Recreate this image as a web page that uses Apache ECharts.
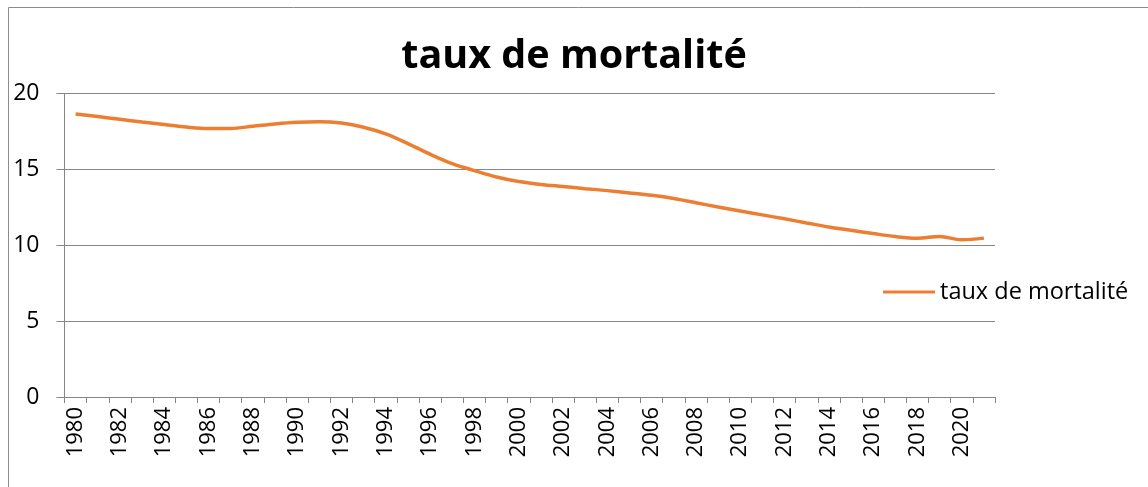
<!DOCTYPE html>
<html>
<head>
<meta charset="utf-8">
<script src="https://cdn.jsdelivr.net/npm/echarts@6/dist/echarts.min.js"></script>
<style>html,body{margin:0;padding:0;background:#fff}#c{width:1148px;height:487px}</style>
</head>
<body>
<div id="c"></div>
<script>
const years = ['1980','1981','1982','1983','1984','1985','1986','1987','1988','1989','1990','1991','1992','1993','1994','1995','1996','1997','1998','1999','2000','2001','2002','2003','2004','2005','2006','2007','2008','2009','2010','2011','2012','2013','2014','2015','2016','2017','2018','2019','2020','2021'];
const mortalite = [18.65,18.48,18.3,18.12,17.96,17.79,17.69,17.7,17.84,17.99,18.1,18.14,18.05,17.78,17.34,16.7,16.0,15.38,14.92,14.5,14.2,14.01,13.87,13.73,13.6,13.45,13.29,13.08,12.8,12.52,12.26,12.0,11.74,11.47,11.2,10.99,10.77,10.57,10.46,10.58,10.36,10.47];
const yTicks = {min:0, max:20, interval:5};
const seriesName = 'taux de mortalité';
const titleText = 'taux de mortalité';

const chart = echarts.init(document.getElementById('c'), null, {renderer:'canvas'});
chart.setOption({
  animation:false,
  backgroundColor:'#ffffff',
  graphic:[{type:'rect', shape:{x:8.5,y:7.5,width:1300,height:700}, style:{fill:'none',stroke:'#8c8c8c',lineWidth:1}, silent:true}],
  title:{text:titleText, left:'center', top:37, padding:0, textStyle:{fontFamily:'Open Sans', fontWeight:'bold', fontSize:39.5, color:'#000'}},
  grid:{left:64.5, top:93.5, right:153, bottom:90},
  legend:{data:[{name:seriesName, icon:'rect'}], left:883, top:280, padding:0, itemWidth:52, itemHeight:3, textStyle:{fontFamily:'Open Sans', fontSize:23.5, color:'#000'}},
  xAxis:{type:'category', data:years, boundaryGap:true,
    axisLine:{lineStyle:{color:'#868686', width:1}},
    axisTick:{show:true, interval:0, length:6, lineStyle:{color:'#868686'}},
    axisLabel:{interval:1, rotate:90, margin:10, fontFamily:'Open Sans', fontSize:22, color:'#000'},
    splitLine:{show:false}},
  yAxis:{type:'value', min:yTicks.min, max:yTicks.max, interval:yTicks.interval,
    axisLine:{show:true, lineStyle:{color:'#868686'}},
    axisTick:{show:true, length:8, lineStyle:{color:'#868686'}},
    axisLabel:{margin:25, fontFamily:'Open Sans', fontSize:23, color:'#000'},
    splitLine:{show:true, lineStyle:{color:'#868686', width:1}}},
  series:[{name:seriesName, type:'line', data:mortalite, smooth:0.35, showSymbol:false, symbol:'none',
    lineStyle:{color:'#ED7D31', width:3.5}, itemStyle:{color:'#ED7D31'}}]
});
</script>
</body>
</html>
